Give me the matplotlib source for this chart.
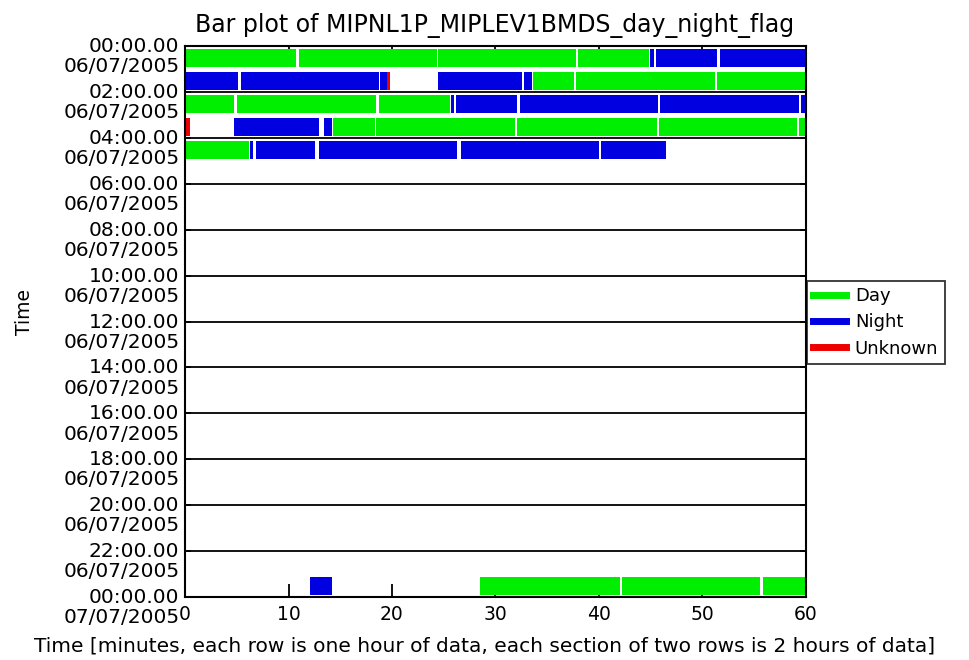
import numpy as np
import matplotlib.pyplot as plt
import matplotlib.transforms as mtransforms
from matplotlib.lines import Line2D

# segments: row (hour of day), start/end minute, flag
seg_row = [0, 0, 0, 0, 0, 0, 0,
           1, 1, 1, 1, 1, 1, 1, 1, 1,
           2, 2, 2, 2, 2, 2, 2, 2,
           3, 3, 3, 3, 3, 3, 3, 3,
           4, 4, 4, 4, 4, 4,
           23, 23, 23, 23]
seg_start = [0.0, 11.0, 24.4, 38.0, 44.9, 45.5, 51.7,
             0.0, 5.4, 18.8, 19.5, 24.4, 32.8, 33.6, 37.8, 51.4,
             0.0, 5.0, 18.7, 25.7, 26.2, 32.4, 45.9, 59.5,
             0.0, 4.7, 13.4, 14.3, 18.5, 32.1, 45.8, 59.3,
             0.0, 6.3, 6.9, 12.9, 26.7, 40.2,
             12.1, 28.5, 42.2, 55.8]
seg_end = [10.7, 24.3, 37.8, 44.8, 45.3, 51.4, 60.0,
           5.1, 18.7, 19.5, 19.8, 32.6, 33.5, 37.6, 51.2, 60.0,
           4.7, 18.5, 25.6, 26.0, 32.1, 45.7, 59.3, 60.0,
           0.5, 12.9, 14.2, 18.4, 31.9, 45.6, 59.1, 60.0,
           6.2, 6.6, 12.6, 26.3, 40.0, 46.5,
           14.2, 42.0, 55.6, 60.0]
seg_flag = ['D', 'D', 'D', 'D', 'N', 'N', 'N',
            'N', 'N', 'N', 'U', 'N', 'N', 'D', 'D', 'D',
            'D', 'D', 'D', 'N', 'N', 'N', 'N', 'N',
            'U', 'N', 'N', 'D', 'D', 'D', 'D', 'D',
            'D', 'N', 'N', 'N', 'N', 'N',
            'N', 'D', 'D', 'D']

flag_names = ['Day', 'Night', 'Unknown']
flag_colors = {'D': '#00ee00', 'N': '#0000e0', 'U': '#ee0000'}

hours = list(range(0, 25, 2))
ytick_labels = ['%02d:00.00\n06/07/2005' % h for h in hours[:-1]] + ['00:00.00\n07/07/2005']
xticks = [0, 10, 20, 30, 40, 50, 60]

fig = plt.figure(figsize=(9.69, 6.60), dpi=100)
ax = fig.add_axes([185 / 969, 1 - 597 / 660, 621 / 969, 551 / 660])

# bars
for r, s, e, f in zip(seg_row, seg_start, seg_end, seg_flag):
    ax.barh(r + 0.12, e - s, left=s, height=0.8, align='edge',
            color=flag_colors[f], edgecolor='none', zorder=3)

# section lines every two hours
ax.hlines(hours[1:-1], 0, 60, colors='black', linewidth=1.3, zorder=2)

ax.set_xlim(0, 60)
ax.set_ylim(24, 0)
ax.set_xticks(xticks)
ax.set_xticklabels([str(x) for x in xticks], fontsize=13.5)
ax.set_yticks(hours)
ax.set_yticklabels(ytick_labels, fontsize=14.5, linespacing=1.08)
ax.tick_params(axis='x', direction='in', length=9.5, width=1.3, top=True, pad=6)
ax.tick_params(axis='y', direction='in', length=4, width=1.3, right=True, pad=4)

# shift the two-line y labels so the time line sits at the tick
offset = mtransforms.ScaledTranslation(0, -8 / 100, fig.dpi_scale_trans)
for lbl in ax.get_yticklabels():
    lbl.set_transform(lbl.get_transform() + offset)

for sp in ax.spines.values():
    sp.set_linewidth(1.5)
    sp.set_zorder(4)

fig.text(495 / 969, 1 - 25 / 660, 'Bar plot of MIPNL1P_MIPLEV1BMDS_day_night_flag',
         ha='center', va='center', fontsize=17)
fig.text(25 / 969, 1 - 312 / 660, 'Time', rotation=90, ha='center', va='center', fontsize=13.5)
fig.text(485 / 969, 1 - 646 / 660,
         'Time [minutes, each row is one hour of data, each section of two rows is 2 hours of data]',
         ha='center', va='center', fontsize=14.5)

handles = [Line2D([], [], color=flag_colors[k], linewidth=5) for k in ['D', 'N', 'U']]
leg = fig.legend(handles, flag_names, loc='upper left',
                 bbox_to_anchor=(807 / 969, 1 - 281 / 660),
                 fontsize=13, frameon=True, fancybox=False, edgecolor='black',
                 handlelength=1.8, handletextpad=0.5, labelspacing=0.45,
                 borderpad=0.35, borderaxespad=0)
leg.get_frame().set_linewidth(1.3)

fig.savefig('out.png', dpi=100)
